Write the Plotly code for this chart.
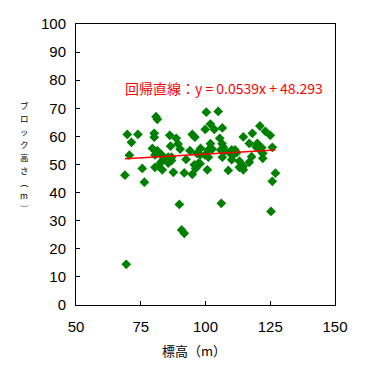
import numpy as np
import plotly.graph_objects as go

# elevation (m)
elev = [68.9, 69.4, 69.8, 70.6, 71.4, 73.9, 75.6, 76.4, 79.5, 80.2,
        80.2, 80.5, 80.5, 80.9, 81.4, 81.4, 82.2, 83.1, 82.8, 81.8,
        83.3, 83.7, 85.0, 85.6, 86.9, 85.6, 86.9, 86.2, 86.5, 87.6,
        88.7, 89.4, 90.2, 89.9, 90.8, 91.8, 91.8, 92.5, 94.0, 94.9,
        95.9, 94.9, 95.7, 96.2, 96.7, 97.2, 98.1, 97.9, 97.9, 99.8,
        99.9, 100.3, 100.7, 101.1, 101.1, 101.9, 101.9, 102.6, 103.4, 104.9,
        105.5, 105.9, 106.1, 106.4, 106.5, 106.5, 106.9, 107.5, 108.8, 109.5,
        110.1, 110.1, 110.7, 111.4, 112.0, 113.1, 113.1, 114.6, 114.6, 114.6,
        116.9, 116.9, 118.1, 119.5, 120.0, 120.4, 121.0, 121.4, 121.7, 122.1,
        122.1, 123.1, 125.0, 125.3, 125.8, 125.8, 127.0, 117.8]
# block height (m)
height = [46.2, 14.5, 60.7, 53.3, 57.9, 60.7, 48.6, 43.7, 55.7, 61.1,
          59.7, 53.4, 49.0, 67.0, 66.1, 54.9, 54.0, 53.4, 50.8, 49.4,
          48.1, 51.7, 52.0, 52.6, 52.6, 50.5, 51.4, 60.4, 56.5, 47.2,
          59.3, 57.3, 55.5, 35.8, 26.7, 25.5, 47.0, 51.8, 54.9, 60.7,
          59.7, 46.5, 49.9, 48.6, 54.0, 50.4, 55.7, 53.4, 50.3, 53.4,
          62.5, 68.6, 48.1, 55.2, 52.6, 64.4, 57.4, 55.5, 62.5, 68.9,
          59.3, 55.2, 36.2, 57.4, 63.0, 52.6, 56.1, 54.9, 47.9, 54.0,
          55.2, 51.7, 53.4, 55.2, 54.2, 51.2, 49.0, 49.4, 48.1, 59.8,
          57.5, 50.8, 61.1, 56.3, 57.5, 55.8, 63.7, 54.9, 56.0, 54.0,
          52.2, 61.8, 60.4, 33.3, 56.1, 44.0, 46.9, 52.8]

slope = 0.0539
intercept = 48.293
x_ticks = [50, 75, 100, 125, 150]
y_ticks = [0, 10, 20, 30, 40, 50, 60, 70, 80, 90, 100]
y_title_chars = list("ブロック高さ︵m︶")

fit_x = np.array([min(elev), max(elev)])
fit_y = slope * fit_x + intercept

fig = go.Figure()
fig.add_trace(go.Scatter(x=elev, y=height, mode="markers",
                         marker=dict(symbol="diamond", size=7.5, color="#008000",
                                     line=dict(width=0)),
                         showlegend=False, hoverinfo="skip"))
fig.add_trace(go.Scatter(x=fit_x, y=fit_y, mode="lines",
                         line=dict(color="#ff0000", width=1.5),
                         showlegend=False, hoverinfo="skip"))

tickfont = dict(family="Liberation Sans, Arial, sans-serif", size=15, color="black")
fig.update_xaxes(range=[50, 150], tickvals=x_ticks, ticktext=[str(v) for v in x_ticks],
                 showline=True, linecolor="black", linewidth=1, mirror=True,
                 ticks="inside", ticklen=4, tickcolor="black", showgrid=False,
                 zeroline=False, tickfont=tickfont, ticklabelstandoff=8)
fig.update_yaxes(range=[0, 100], tickvals=y_ticks, ticktext=[str(v) for v in y_ticks],
                 showline=True, linecolor="black", linewidth=1, mirror=True,
                 ticks="inside", ticklen=4, tickcolor="black", showgrid=False,
                 zeroline=False, tickfont=tickfont, ticklabelstandoff=6)

cjk = "Noto Sans CJK JP, sans-serif"
fig.add_annotation(text="回帰直線：y = 0.0539x + 48.293", x=107.1, y=77.2,
                   xref="x", yref="y", showarrow=False,
                   font=dict(family=cjk, size=14, color="#ff0000"))
fig.add_annotation(text="標高（m）", x=0.455, y=-0.135, xref="paper", yref="paper",
                   yanchor="middle", yshift=-8, showarrow=False,
                   font=dict(family=cjk, size=13, color="black"))
n = len(y_title_chars)
for i, ch in enumerate(y_title_chars):
    fig.add_annotation(text=ch, x=-0.2, y=0.71 - i * (0.71 - 0.345) / (n - 1),
                       xref="paper", yref="paper", showarrow=False,
                       yanchor="middle", xanchor="center", borderpad=0,
                       font=dict(family=cjk, size=8.5, color="black"))

fig.update_layout(width=367, height=368, autosize=False,
                  margin=dict(l=76, r=32, t=24, b=63),
                  paper_bgcolor="white", plot_bgcolor="white")
fig.write_html("out.html")
